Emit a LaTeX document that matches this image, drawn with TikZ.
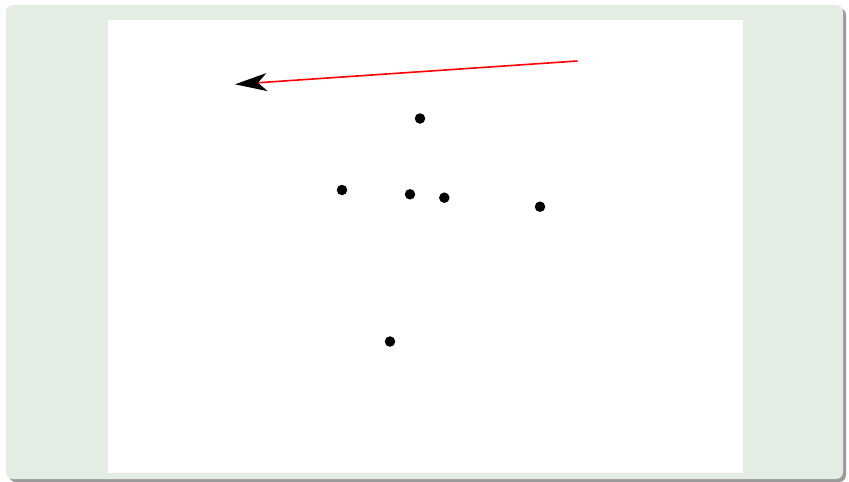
\documentclass[tikz,border=0pt]{standalone}
\usetikzlibrary{arrows.meta}
\definecolor{panelgreen}{HTML}{E3EDE3}
\definecolor{shadowgray}{HTML}{9A9A9A}
\tikzset{
  dotnode/.style={circle,fill=black,inner sep=0pt,minimum size=10.5pt},
  redarrow/.style={red,line width=1.6pt,-{Stealth[length=32pt,width=18pt,inset=9pt,black]}}
}
\begin{document}
\begin{tikzpicture}[x=1pt,y=-1pt]
\useasboundingbox (0,0) rectangle (849,482);
\fill[shadowgray,rounded corners=7pt] (9,8) rectangle (846,482);
\fill[panelgreen,rounded corners=7pt] (6,5) rectangle (843,479);
\fill[white] (108,20) rectangle (743,473);
\node[dotnode] (d1) at (420,118.5) {};
\node[dotnode] (d2) at (342,190) {};
\node[dotnode] (d3) at (410,194.3) {};
\node[dotnode] (d4) at (444.3,197.7) {};
\node[dotnode] (d5) at (540,206.7) {};
\node[dotnode] (d6) at (390,341.5) {};
\coordinate (a0) at (577.5,61);
\coordinate (a1) at (235,84.3);
\draw[redarrow] (a0) -- (a1);
\end{tikzpicture}
\end{document}
